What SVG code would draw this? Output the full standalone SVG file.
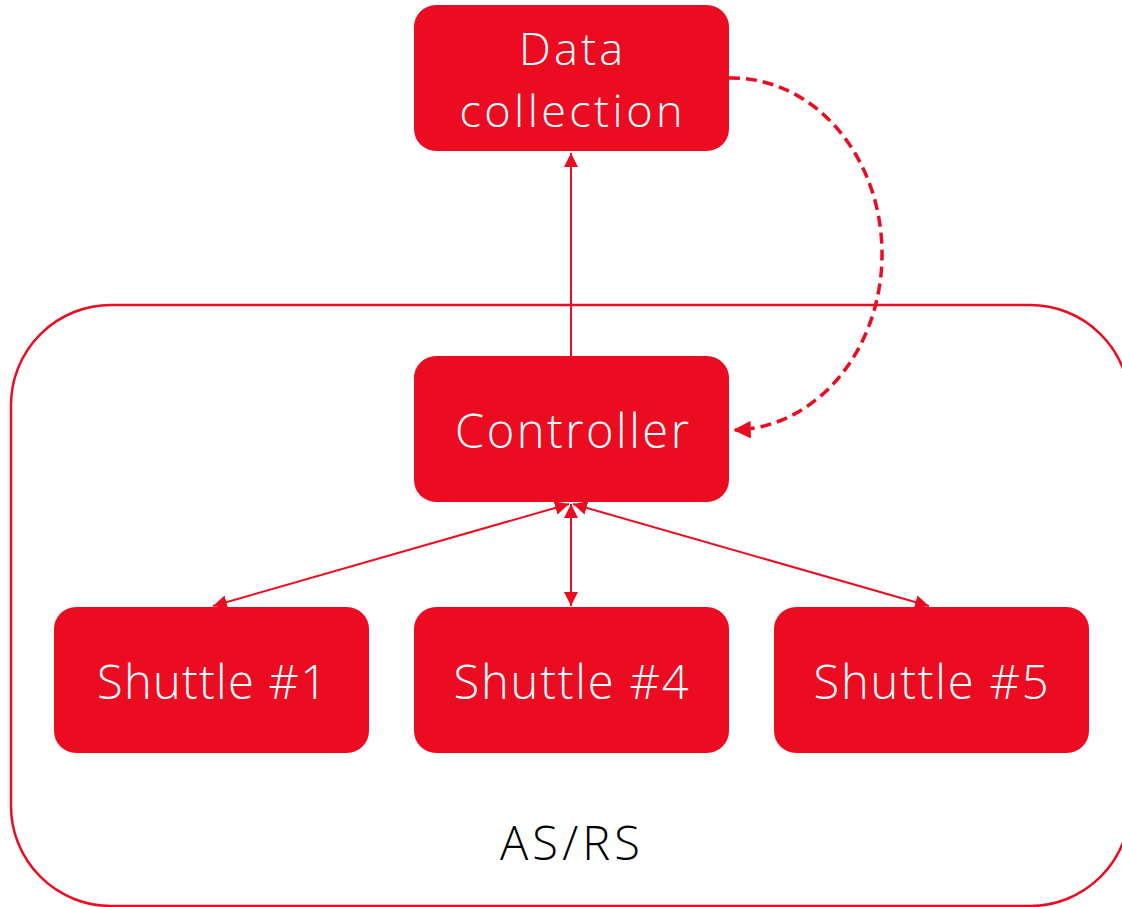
<svg xmlns="http://www.w3.org/2000/svg" width="1122" height="907" viewBox="0 0 1122 907">
<defs>
<style>
.node{fill:#EB0C22;}
.lbl{font-family:"Open Sans","Liberation Sans",sans-serif;font-weight:300;font-size:47px;fill:#fff;text-anchor:middle;}
.edge{fill:none;stroke:#EB0C22;stroke-width:2;}
.dash{fill:none;stroke:#EB0C22;stroke-width:3.5;stroke-dasharray:11 6;}
</style>
<marker id="ah" viewBox="0 0 10 10" refX="10" refY="5" markerWidth="7" markerHeight="7" orient="auto-start-reverse" markerUnits="strokeWidth">
<path d="M0,0 L10,5 L0,10 z" fill="#EB0C22"/>
</marker>
<marker id="ahd" viewBox="0 0 10 10" refX="9" refY="5" markerWidth="5" markerHeight="5" orient="auto" markerUnits="strokeWidth">
<path d="M0,0 L10,5 L0,10 z" fill="#EB0C22"/>
</marker>
</defs>
<rect id="asrs" x="11" y="305" width="1119" height="601" rx="100" fill="none" stroke="#EB0C22" stroke-width="2.5"/>
<text x="570" y="860" font-family="'Open Sans','Liberation Sans',sans-serif" font-weight="300" font-size="47" fill="#000" text-anchor="middle" textLength="140" lengthAdjust="spacing">AS/RS</text>
<g id="connectors">
<line class="edge" x1="571" y1="356" x2="571" y2="153" marker-end="url(#ah)"/>
<line class="edge" x1="571" y1="504" x2="571" y2="606" marker-start="url(#ah)" marker-end="url(#ah)"/>
<line class="edge" x1="569" y1="504" x2="213" y2="606" marker-start="url(#ah)" marker-end="url(#ah)"/>
<line class="edge" x1="573" y1="504" x2="929" y2="606" marker-start="url(#ah)" marker-end="url(#ah)"/>
<path class="dash" d="M729,78 A150 176 0 0 1 735,430" marker-end="url(#ahd)"/>
</g>
<g id="data-collection">
<rect class="node" x="414" y="5" width="315" height="146" rx="22"/>
<text class="lbl" style="font-size:45px"><tspan x="571" y="65" textLength="104" lengthAdjust="spacing">Data</tspan><tspan x="571" y="127" textLength="223" lengthAdjust="spacing">collection</tspan></text>
</g>
<g id="controller">
<rect class="node" x="414" y="356" width="315" height="146" rx="22"/>
<text class="lbl" x="572" y="448" textLength="234" lengthAdjust="spacing">Controller</text>
</g>
<g id="shuttle1">
<rect class="node" x="54" y="607" width="315" height="146" rx="22"/>
<text class="lbl" x="212" y="699" textLength="230" lengthAdjust="spacing">Shuttle #1</text>
</g>
<g id="shuttle4">
<rect class="node" x="414" y="607" width="315" height="146" rx="22"/>
<text class="lbl" x="571" y="699" textLength="235" lengthAdjust="spacing">Shuttle #4</text>
</g>
<g id="shuttle5">
<rect class="node" x="774" y="607" width="315" height="146" rx="22"/>
<text class="lbl" x="931" y="699" textLength="235" lengthAdjust="spacing">Shuttle #5</text>
</g>
</svg>
